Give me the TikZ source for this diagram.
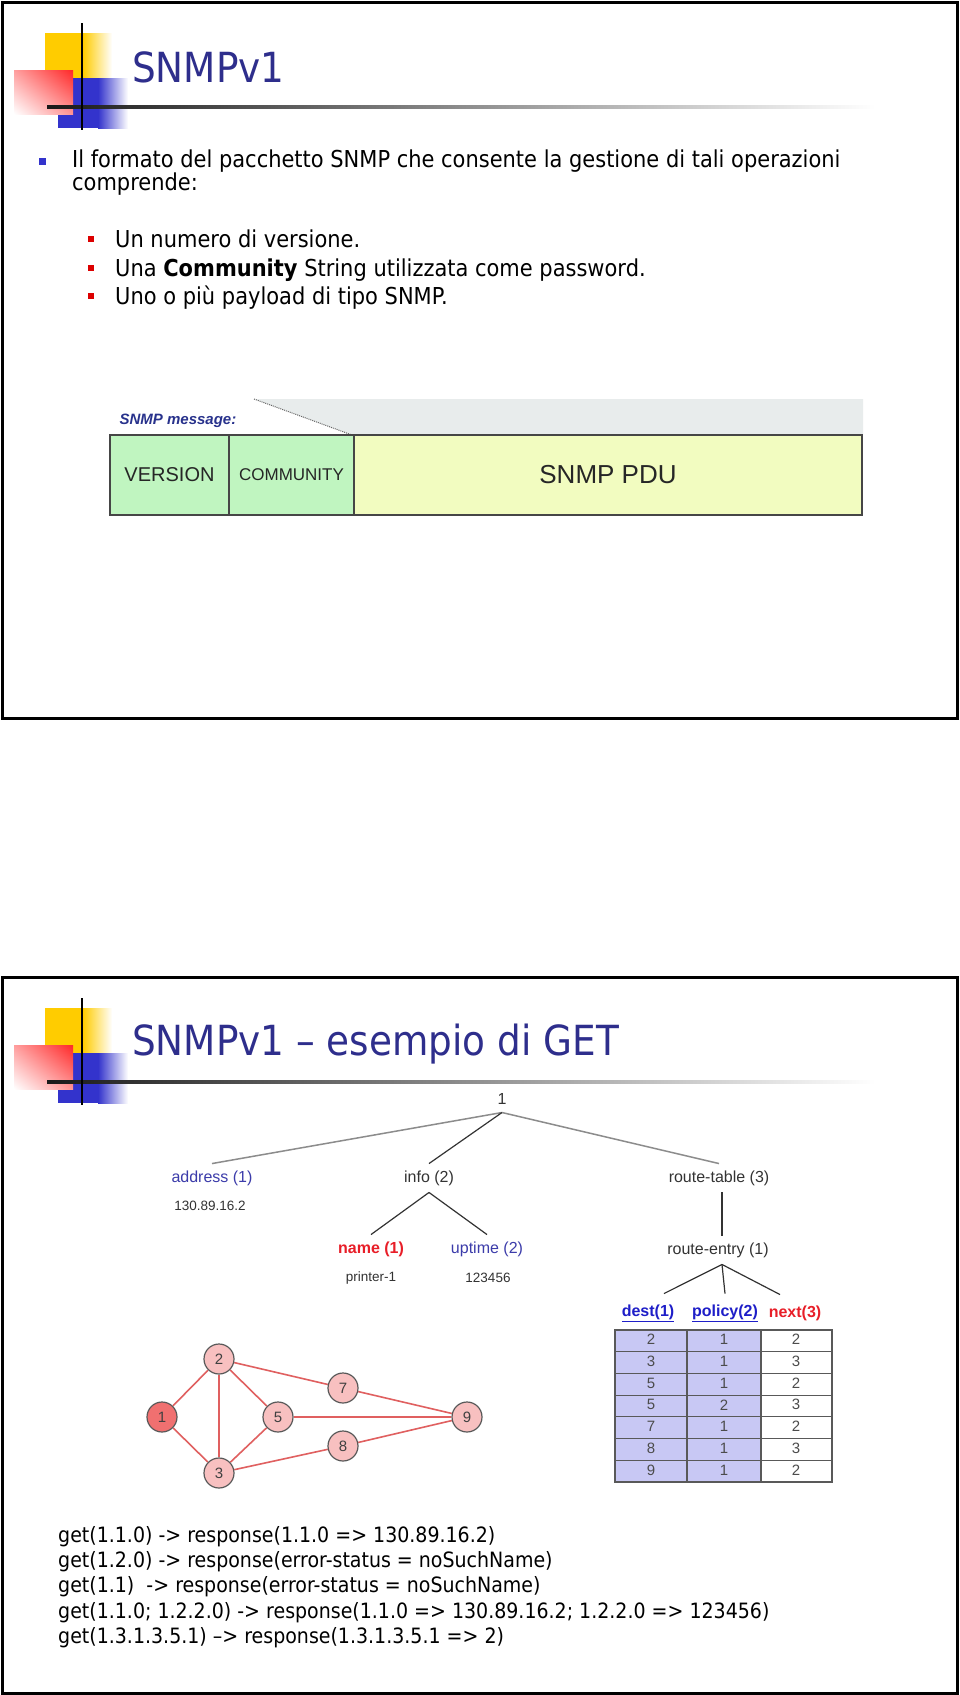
\documentclass[tikz,border=0pt]{standalone}
\usepackage{fontspec}
\setmainfont{DejaVu Sans}[FakeStretch=0.9]
\newfontfamily\arialfont{Liberation Sans}
\usetikzlibrary{positioning}
\usetikzlibrary{shadings}
\usetikzlibrary{backgrounds}
\definecolor{titleColor}{RGB}{46,46,140}
\definecolor{bulletBlue}{RGB}{51,51,204}
\definecolor{bulletRed}{RGB}{220,0,0}
\definecolor{logoYellow}{RGB}{255,204,0}
\definecolor{logoRed}{RGB}{255,40,40}
\definecolor{logoBlue}{RGB}{51,51,204}
\definecolor{msgBlue}{RGB}{40,50,140}
\definecolor{msgGray}{RGB}{232,236,236}
\definecolor{msgGreen}{RGB}{192,245,192}
\definecolor{msgYellow}{RGB}{242,252,192}
\definecolor{msgEdge}{RGB}{70,70,70}
\definecolor{labelBlue}{RGB}{60,60,170}
\definecolor{labelRed}{RGB}{232,30,40}
\definecolor{colBlue}{RGB}{30,30,200}
\definecolor{cellLavender}{RGB}{200,200,244}
\definecolor{routerPink}{RGB}{248,192,192}
\definecolor{routerRed}{RGB}{240,112,112}
\definecolor{linkRed}{RGB}{224,96,96}

\newcommand{\slidelogo}[1]{%
  \begin{scope}[shift={(0,#1)}]
    \fill[logoYellow] (45,33) rectangle (83,78);
    \shade[left color=logoYellow, right color=white] (83,33) rectangle (112,78);
    \fill[logoBlue] (58,78) rectangle (98,128);
    \shade[left color=logoBlue, right color=white] (98,78) rectangle (128,128);
    \shade[upper left=logoRed!45, upper right=logoRed, lower left=white, lower right=logoRed!50] (14,70) rectangle (73,114);
    \shade[left color=black!90, right color=white] (47,105.8) rectangle (875,108.2);
    \draw[line width=2.5pt] (82,23) -- (82,130);
  \end{scope}}

\begin{document}
\begin{tikzpicture}[x=1pt, y=-1pt]

          \tikzstyle{titleText} = [font=\fontsize{41.5}{45}\selectfont, text=titleColor, inner sep=0pt];
          \tikzstyle{bodyText} = [font=\fontsize{23.3}{27}\selectfont, inner sep=0pt, anchor=base west];
          \tikzstyle{queryText} = [font=\fontsize{21.1}{25}\selectfont, inner sep=0pt, anchor=west];
          \tikzstyle{msgBox} = [draw=msgEdge, line width=1.2pt, minimum height=80pt, inner sep=0pt, outer sep=0pt, font=\arialfont, text=black!85];
          \tikzstyle{treeLabel} = [font=\arialfont\fontsize{16}{19}\selectfont, text=black!80, inner sep=2pt, outer sep=5pt];
          \tikzstyle{treeValue} = [font=\arialfont\fontsize{13.5}{16}\selectfont, text=black!80, inner sep=1pt];
          \tikzstyle{treeEdge} = [line width=1.2pt, black!80];
          \tikzstyle{fadedEdge} = [line width=1.5pt, black!45];
          \tikzstyle{router} = [circle, draw=black!65, line width=1.2pt, fill=routerPink, minimum size=30pt, inner sep=0pt, font=\arialfont\fontsize{15}{18}\selectfont, text=black!75];
          \tikzstyle{link} = [line width=1.6pt, linkRed];
          \tikzstyle{cellText} = [font=\arialfont\fontsize{15}{18}\selectfont, text=black!70, inner sep=0pt];
          \tikzstyle{tableLine} = [line width=1.2pt, black!65];

          \useasboundingbox (0,0) rectangle (960,1695);
          \begin{scope}[on background layer]
            \fill[white] (0,0) rectangle (960,1695);
          \end{scope}

          \slidelogo{0}
          \draw[line width=3pt] (2,2) rectangle (957,718);
          \node[titleText, anchor=base west] (title1) at (132,82) {SNMPv1};

          \fill[bulletBlue] (38.5,158) rectangle (45.5,165);
          \node[bodyText] (intro) at (72,167) {Il formato del pacchetto SNMP che consente la gestione di tali operazioni};
          \node[bodyText] (introEnd) at (72,190) {comprende:};
          \foreach \y in {247,276,304}
            \fill[bulletRed] (88,\y-11) rectangle (94,\y-5);
          \node[bodyText] (version) at (115,247) {Un numero di versione.};
          \node[bodyText] (community) at (115,276) {Una \textbf{Community} String utilizzata come password.};
          \node[bodyText] (payload) at (115,304) {Uno o più payload di tipo SNMP.};

          \fill[msgGray] (254,399) -- (863,399) -- (863,435) -- (352,435) -- cycle;
          \draw[densely dotted, black!60, line width=1pt] (254,399) -- (352,435);
          \node[font=\arialfont\bfseries\itshape\fontsize{15}{18}\selectfont, text=msgBlue] (msgLabel) at (178,421) {SNMP message:};
          \node[msgBox, fill=msgGreen, minimum width=119pt, anchor=north west, font=\arialfont\fontsize{20}{24}\selectfont] (versionBox) at (110,435) {VERSION};
          \node[msgBox, fill=msgGreen, minimum width=125pt, right=0pt of versionBox, font=\arialfont\fontsize{17}{20}\selectfont] (communityBox) {COMMUNITY};
          \node[msgBox, fill=msgYellow, minimum width=508pt, right=0pt of communityBox, font=\arialfont\fontsize{26}{30}\selectfont] (pduBox) {SNMP PDU};
          \draw[msgEdge, line width=2pt] (communityBox.north east) -- (communityBox.south east);
          \draw[msgEdge, line width=2.5pt] (versionBox.north west) rectangle (pduBox.south east);

          \slidelogo{975}
          \draw[line width=3pt] (2,977) rectangle (957,1693);
          \node[titleText, anchor=base west] (title2) at (132,1055) {SNMPv1 – esempio di GET};

          \node[treeLabel, inner sep=8pt, outer sep=0pt] (root) at (502,1099) {1};
          \node[treeLabel, text=labelBlue] (address) at (212,1178) {address (1)};
          \node[treeValue] (addressVal) at (210,1206) {130.89.16.2};
          \node[treeLabel] (info) at (429,1178) {info (2)};
          \node[treeLabel] (routeTable) at (719,1178) {route-table (3)};
          \node[treeLabel, text=labelRed, font=\arialfont\bfseries\fontsize{16}{19}\selectfont] (name) at (371,1249) {name (1)};
          \node[treeLabel, text=labelBlue] (uptime) at (487,1249) {uptime (2)};
          \node[treeValue] (nameVal) at (371,1278) {printer-1};
          \node[treeValue] (uptimeVal) at (488,1278) {123456};
          \node[treeLabel] (routeEntry) at (718,1250) {route-entry (1)};
          \node[treeLabel, text=colBlue, font=\arialfont\bfseries\fontsize{16}{19}\selectfont] (dest) at (648,1313) {\underline{dest(1)}};
          \node[treeLabel, text=colBlue, font=\arialfont\bfseries\fontsize{16}{19}\selectfont] (policy) at (725,1313) {\underline{policy(2)}};
          \node[treeLabel, text=labelRed, font=\arialfont\bfseries\fontsize{16}{19}\selectfont] (next) at (795,1313) {next(3)};

          \draw[fadedEdge] (root.south) -- (address.north);
          \draw[treeEdge] (root.south) -- (info.north);
          \draw[fadedEdge] (root.south) -- (routeTable.north);
          \draw[treeEdge] (info.south) -- (name.north);
          \draw[treeEdge] (info.south) -- (uptime.north);
          \draw[treeEdge] ([xshift=3pt]routeTable.south) -- ([xshift=4pt]routeEntry.north);
          \draw[treeEdge] ([xshift=4pt]routeEntry.south) -- ([xshift=16pt, yshift=4pt]dest.north);
          \draw[treeEdge] ([xshift=4pt]routeEntry.south) -- ([yshift=4pt]policy.north);
          \draw[treeEdge] ([xshift=4pt]routeEntry.south) -- ([xshift=-15pt, yshift=4pt]next.north);

          \fill[cellLavender] (615,1330) rectangle (761,1482);
          \foreach \i in {1,...,6}
            \draw[tableLine] (615,{1330+21.7*\i}) -- (832,{1330+21.7*\i});
          \draw[tableLine] (687,1330) -- (687,1482);
          \draw[tableLine] (761,1330) -- (761,1482);
          \draw[tableLine, line width=1.6pt] (615,1330) rectangle (832,1482);
          \foreach \d/\p/\n [count=\i] in {2/1/2, 3/1/3, 5/1/2, 5/2/3, 7/1/2, 8/1/3, 9/1/2} {
            \node[cellText] (destCell\i) at (651,{1330+21.7*\i-12}) {\d};
            \node[cellText] (policyCell\i) at (724,{1330+21.7*\i-12}) {\p};
            \node[cellText] (nextCell\i) at (796,{1330+21.7*\i-12}) {\n};
          }

          \node[router, fill=routerRed] (r1) at (162,1417) {1};
          \node[router] (r2) at (219,1359) {2};
          \node[router] (r3) at (219,1473) {3};
          \node[router] (r5) at (278,1417) {5};
          \node[router] (r7) at (343,1388) {7};
          \node[router] (r8) at (343,1446) {8};
          \node[router] (r9) at (467,1417) {9};
          \begin{scope}[on background layer]
          \foreach \a/\b in {1/2, 1/3, 2/3, 2/5, 3/5, 2/7, 7/9, 5/9, 3/8, 8/9}
            \draw[link] (r\a) -- (r\b);
          \end{scope}

          \node[queryText] (query1) at (58,1537) {get(1.1.0) -> response(1.1.0 => 130.89.16.2)};
          \node[queryText] (query2) at (58,1562) {get(1.2.0) -> response(error-status = noSuchName)};
          \node[queryText] (query3) at (58,1587) {get(1.1)\ \ -> response(error-status = noSuchName)};
          \node[queryText] (query4) at (58,1613) {get(1.1.0; 1.2.2.0) -> response(1.1.0 => 130.89.16.2; 1.2.2.0 => 123456)};
          \node[queryText] (query5) at (58,1638) {get(1.3.1.3.5.1) –> response(1.3.1.3.5.1 => 2)};
        \end{tikzpicture}
\end{document}
